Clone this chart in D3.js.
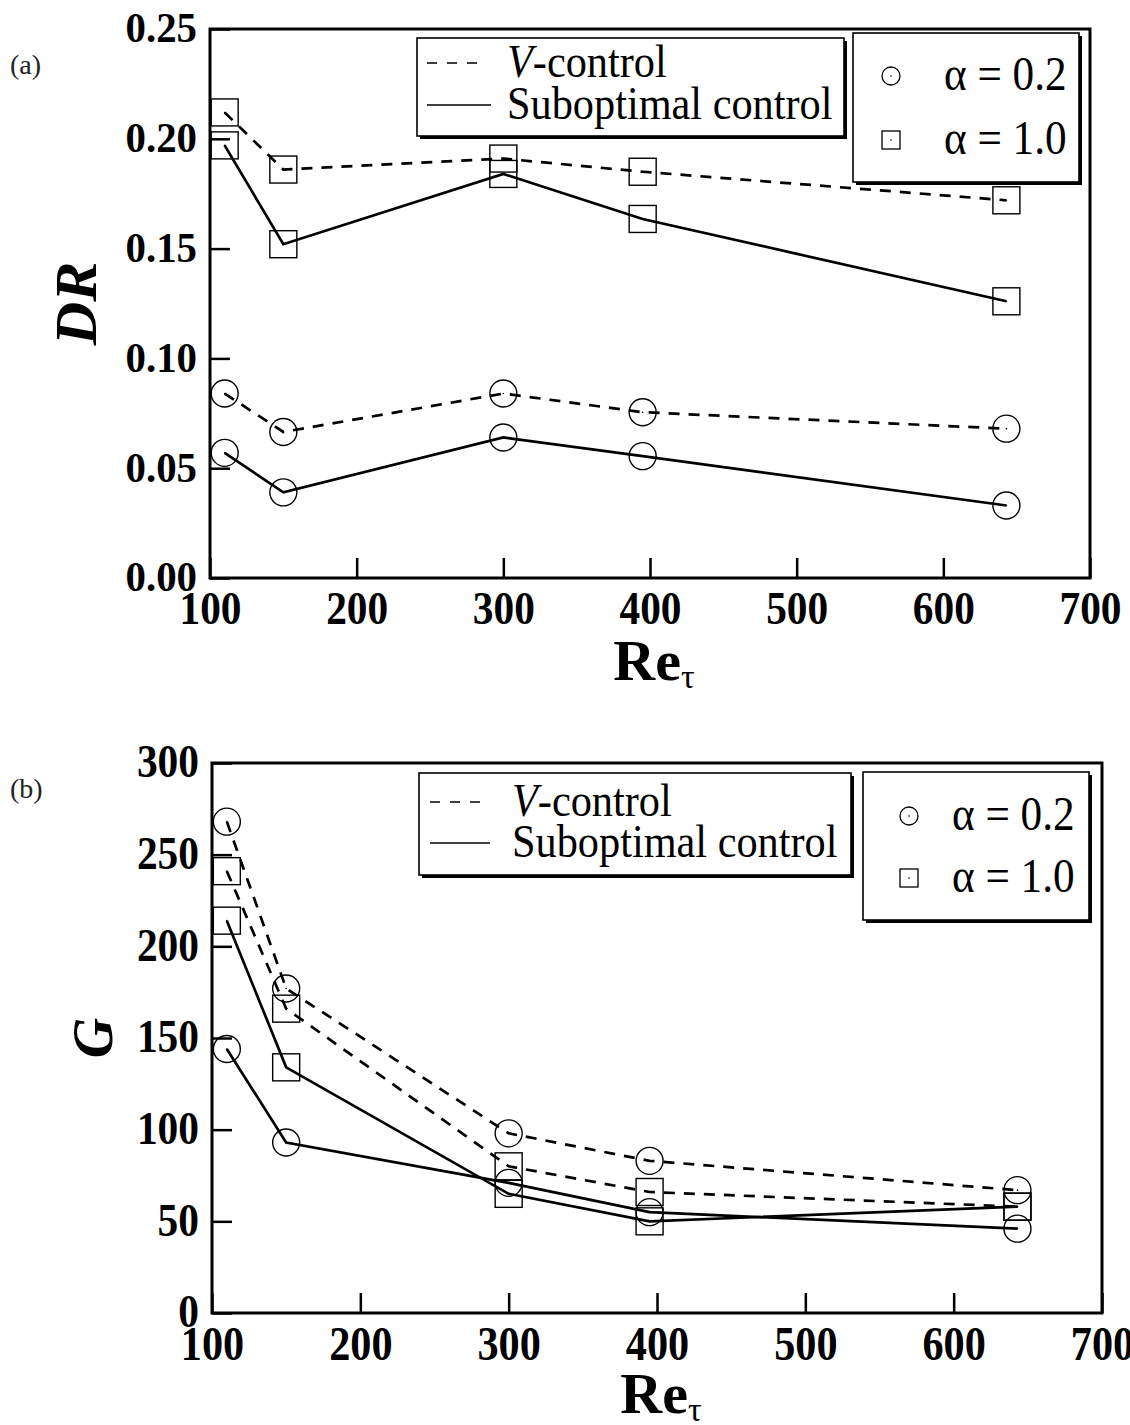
<!DOCTYPE html>
<html>
<head>
<meta charset="utf-8">
<script src="https://cdn.jsdelivr.net/npm/d3@7"></script>
<style>
  body { margin: 0; background: #fff; }
  svg text { font-family: "Liberation Serif", "Times New Roman", serif; }
</style>
</head>
<body>
<svg id="fig" width="1130" height="1425"></svg>
<script>
// Re_tau of the runs
var reTau = [110, 150, 300, 395, 643];

// (a) drag reduction DR
var drVcontrolA02 = [0.084, 0.0665, 0.084, 0.0755, 0.068];
var drVcontrolA10 = [0.212, 0.186, 0.191, 0.185, 0.172];
var drSuboptA02 = [0.057, 0.039, 0.064, 0.0555, 0.033];
var drSuboptA10 = [0.197, 0.152, 0.184, 0.1635, 0.126];

// (b) gain G
var gVcontrolA02 = [268, 177, 98, 83, 67];
var gVcontrolA10 = [241, 166, 80, 66, 58];
var gSuboptA02 = [144, 93, 71, 55, 46];
var gSuboptA10 = [214, 134, 65, 50, 58];

var xTicks = [100, 200, 300, 400, 500, 600, 700];
var drTicks = [0, 0.05, 0.10, 0.15, 0.20, 0.25];
var gTicks = [0, 50, 100, 150, 200, 250, 300];

var svg = d3.select("#fig");

// squeeze glyphs sideways (the original lettering is tall and narrow)
function condense(sel, f) {
	sel.each(function() {
		var w = this.getComputedTextLength();
		d3.select(this).attr("textLength", w * f).attr("lengthAdjust", "spacingAndGlyphs");
	});
}

function drawPanel(p) {
	var g = svg.append("g");

	var x = d3.scaleLinear().domain([100, 700]).range([p.left, p.right]);
	var y = d3.scaleLinear().domain(p.ydomain).range([p.bottom, p.top]);

	// inward ticks
	var ax = g.append("g")
		.attr("transform", "translate(0," + p.bottom + ")")
		.call(d3.axisBottom(x).tickValues(xTicks).tickSize(-20).tickPadding(13).tickFormat(d3.format("d")));
	var ay = g.append("g")
		.attr("transform", "translate(" + p.left + ",0)")
		.call(d3.axisLeft(y).tickValues(p.yticks).tickSize(-20).tickPadding(13).tickFormat(p.yformat));

	[ax, ay].forEach(function(a) {
		a.select(".domain").remove();
		a.selectAll(".tick line").attr("stroke", "#000").attr("stroke-width", 2.5);
		a.selectAll("text")
			.attr("fill", "#000")
			.style("font-weight", "bold");
	});
	ax.selectAll("text").style("font-size", p.xfont + "px");
	ay.selectAll("text").style("font-size", p.yfont + "px").attr("dy", "0.3em");
	condense(ax.selectAll("text"), 0.88);
	condense(ay.selectAll("text"), p.ysqueeze);

	g.append("rect")
		.attr("x", p.left).attr("y", p.top)
		.attr("width", p.right - p.left).attr("height", p.bottom - p.top)
		.attr("fill", "none").attr("stroke", "#000").attr("stroke-width", 3);

	var line = d3.line()
		.x(function(d, i) { return x(reTau[i]); })
		.y(function(d) { return y(d); });

	p.series.forEach(function(s) {
		g.append("path")
			.attr("d", line(s.values))
			.attr("fill", "none")
			.attr("stroke", "#000")
			.attr("stroke-width", 2.7)
			.attr("stroke-dasharray", s.dashed ? "11,9" : null);
	});

	p.series.forEach(function(s) {
		var m = g.append("g").selectAll("g").data(s.values).enter().append("g")
			.attr("transform", function(d, i) { return "translate(" + x(reTau[i]) + "," + y(d) + ")"; });
		if (s.marker == "circle") {
			m.append("circle").attr("r", 13.5);
		} else {
			m.append("rect").attr("x", -13.5).attr("y", -13.5).attr("width", 27).attr("height", 27);
		}
		m.selectAll("circle,rect").attr("fill", "none").attr("stroke", "#000").attr("stroke-width", 1.4);
		m.append("circle").attr("r", 0.8).attr("fill", "#000");
	});

	// panel tag
	g.append("text").attr("x", 10).attr("y", p.tagY)
		.style("font-size", "28px").attr("fill", "#222").text(p.tag);

	// y title
	g.append("text")
		.attr("transform", "translate(" + p.ytitleX + "," + ((p.top + p.bottom) / 2) + ") rotate(-90)")
		.attr("text-anchor", "middle")
		.style("font-size", p.ytitleFont + "px").style("font-weight", "bold").style("font-style", "italic")
		.text(p.ytitle);

	// x title
	var xt = g.append("text")
		.attr("x", (p.left + p.right) / 2 + 4).attr("y", p.xtitleY)
		.attr("text-anchor", "middle")
		.style("font-size", "58px").style("font-weight", "bold");
	xt.append("tspan").text("Re");
	xt.append("tspan").attr("dy", 8).style("font-size", "34px").style("font-weight", "normal").text("τ");

	// legend: line styles
	var L = p.legend;
	g.append("rect").attr("x", L.b1[0] + 3).attr("y", L.b1[1] + 3)
		.attr("width", L.b1[2] - L.b1[0]).attr("height", L.b1[3] - L.b1[1]).attr("fill", "#000");
	g.append("rect").attr("x", L.b1[0]).attr("y", L.b1[1])
		.attr("width", L.b1[2] - L.b1[0]).attr("height", L.b1[3] - L.b1[1])
		.attr("fill", "#fff").attr("stroke", "#000").attr("stroke-width", 1.6);
	g.append("line").attr("x1", L.sx0).attr("x2", L.sx1).attr("y1", L.ly1 - 14).attr("y2", L.ly1 - 14)
		.attr("stroke", "#000").attr("stroke-width", 1.6).attr("stroke-dasharray", "10,10");
	g.append("line").attr("x1", L.sx0).attr("x2", L.sx1 + 6).attr("y1", L.ly2 - 14).attr("y2", L.ly2 - 14)
		.attr("stroke", "#000").attr("stroke-width", 1.6);
	var t1 = g.append("text").attr("x", L.tx).attr("y", L.ly1).style("font-size", "47px");
	t1.append("tspan").style("font-style", "italic").text("V");
	t1.append("tspan").text("-control");
	var t2 = g.append("text").attr("x", L.tx).attr("y", L.ly2).style("font-size", "47px").text("Suboptimal control");
	condense(t1, 0.9);
	condense(t2, 0.9);

	// legend: markers
	g.append("rect").attr("x", L.b2[0] + 3).attr("y", L.b2[1] + 3)
		.attr("width", L.b2[2] - L.b2[0]).attr("height", L.b2[3] - L.b2[1]).attr("fill", "#000");
	g.append("rect").attr("x", L.b2[0]).attr("y", L.b2[1])
		.attr("width", L.b2[2] - L.b2[0]).attr("height", L.b2[3] - L.b2[1])
		.attr("fill", "#fff").attr("stroke", "#000").attr("stroke-width", 1.6);
	g.append("circle").attr("cx", L.mx).attr("cy", L.my1 - 14).attr("r", 9)
		.attr("fill", "none").attr("stroke", "#000").attr("stroke-width", 1.3);
	g.append("rect").attr("x", L.mx - 9).attr("y", L.my2 - 14 - 9).attr("width", 18).attr("height", 18)
		.attr("fill", "none").attr("stroke", "#000").attr("stroke-width", 1.3);
	g.append("circle").attr("cx", L.mx).attr("cy", L.my1 - 14).attr("r", 0.8);
	g.append("circle").attr("cx", L.mx).attr("cy", L.my2 - 14).attr("r", 0.8);
	var a1 = g.append("text").attr("x", L.ax).attr("y", L.my1).style("font-size", "48px").text("α = 0.2");
	var a2 = g.append("text").attr("x", L.ax).attr("y", L.my2).style("font-size", "48px").text("α = 1.0");
	condense(a1, 0.9);
	condense(a2, 0.9);
}

drawPanel({
	left: 210, right: 1090, top: 29, bottom: 578,
	ydomain: [0, 0.25], yticks: drTicks, yformat: d3.format(".2f"),
	xfont: 47, yfont: 43, ysqueeze: 0.95,
	tag: "(a)", tagY: 74,
	ytitle: "DR", ytitleX: 96, ytitleFont: 60,
	xtitleY: 680,
	series: [
		{values: drVcontrolA02, dashed: true, marker: "circle"},
		{values: drVcontrolA10, dashed: true, marker: "square"},
		{values: drSuboptA02, dashed: false, marker: "circle"},
		{values: drSuboptA10, dashed: false, marker: "square"}
	],
	legend: {
		b1: [417, 38, 844, 136], b2: [853, 33, 1079, 182],
		sx0: 427, sx1: 485, tx: 507, ly1: 77, ly2: 119,
		mx: 891, my1: 90, my2: 154, ax: 944
	}
});

drawPanel({
	left: 212, right: 1102, top: 763, bottom: 1313,
	ydomain: [0, 300], yticks: gTicks, yformat: d3.format("d"),
	xfont: 48, yfont: 46, ysqueeze: 0.9,
	tag: "(b)", tagY: 798,
	ytitle: "G", ytitleX: 112, ytitleFont: 56,
	xtitleY: 1413,
	series: [
		{values: gVcontrolA02, dashed: true, marker: "circle"},
		{values: gVcontrolA10, dashed: true, marker: "square"},
		{values: gSuboptA02, dashed: false, marker: "circle"},
		{values: gSuboptA10, dashed: false, marker: "square"}
	],
	legend: {
		b1: [419, 773, 851, 875], b2: [863, 772, 1089, 920],
		sx0: 430, sx1: 484, tx: 512, ly1: 816, ly2: 857,
		mx: 909, my1: 830, my2: 892, ax: 952
	}
});
</script>
</body>
</html>
